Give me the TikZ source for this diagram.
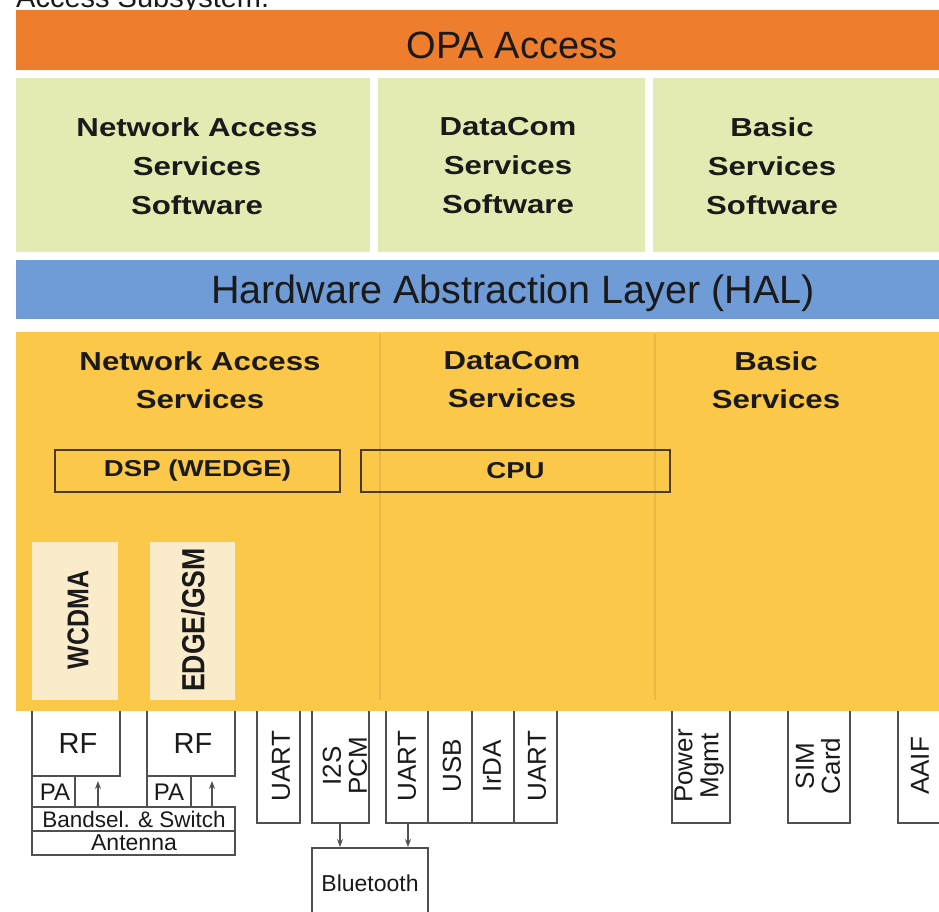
\documentclass[tikz,border=0pt]{standalone}
\usepackage{fontspec}
\setmainfont{Liberation Sans}
\newfontfamily\widefont[FakeStretch=1.2]{Liberation Sans}
\newfontfamily\narrowfont[FakeStretch=0.833]{Liberation Sans}
\usetikzlibrary{arrows.meta}
\definecolor{opaorange}{HTML}{EE7E2E}
\definecolor{softgreen}{HTML}{E3EBB3}
\definecolor{halblue}{HTML}{6F9BD6}
\definecolor{hwyellow}{HTML}{FCC84A}
\definecolor{divyellow}{HTML}{EDB543}
\definecolor{cream}{HTML}{FAEBCB}
\definecolor{textdark}{HTML}{1A1A1A}
\definecolor{chipline}{HTML}{4A3B1C}
\definecolor{linegray}{HTML}{505050}
\tikzset{
  band/.style={anchor=north west, inner sep=0, outer sep=0, draw=none},
  gtext/.style={font=\widefont\fontsize{26}{39}\bfseries\selectfont, align=center, text=textdark},
  ytext/.style={font=\widefont\fontsize{26}{38}\bfseries\selectfont, align=center, text=textdark},
  chip/.style={anchor=north west, inner sep=0, outer sep=0, draw=chipline, line width=1.3pt,
    minimum height=42, font=\widefont\fontsize{23}{25}\bfseries\selectfont, text=textdark},
  radio/.style={anchor=north west, inner sep=0, outer sep=0, fill=cream, minimum height=158},
  radiotext/.style={rotate=90, font=\narrowfont\fontsize{30}{32}\bfseries\selectfont, text=textdark},
  cell/.style={anchor=north west, inner sep=0, outer sep=0, minimum height=112},
  vtext/.style={rotate=90, align=center, font=\fontsize{26}{26}\selectfont, text=textdark},
  htext/.style={font=\fontsize{23}{25}\selectfont, text=textdark, inner sep=0},
  wire/.style={draw=linegray, line width=1.3pt},
  arr/.style={-{Stealth[length=8pt,width=6pt]}, draw=linegray, fill=linegray, line width=1.2pt},
}
\begin{document}
\begin{tikzpicture}[x=1pt,y=-1pt]
\useasboundingbox (0,0) rectangle (939,911);
\clip (0,0) rectangle (939,911);
\fill[white] (0,0) rectangle (939,911);

% caption fragment
\node[anchor=base west, inner sep=0, font=\fontsize{29}{30}\selectfont, text=textdark] (caption) at (16,7) {Access Subsystem.};

% OPA access
\node[band, fill=opaorange, minimum width=992, minimum height=60] (opa) at (16,10) {};
\node[font=\fontsize{38}{40}\selectfont, text=textdark] (opat) at (512,45) {OPA Access};

% software boxes
\node[band, fill=softgreen, minimum width=354, minimum height=174] (g1) at (16,78) {};
\node[band, fill=softgreen, minimum width=267, minimum height=174] (g2) at (378,78) {};
\node[band, fill=softgreen, minimum width=300, minimum height=174] (g3) at (653,78) {};
\node[gtext] (g1t) at (197,166) {Network Access\\Services\\Software};
\node[gtext] (g2t) at (508,166) {DataCom\\Services\\Software};
\node[gtext] (g3t) at (772,166) {Basic\\Services\\Software};

% HAL
\node[band, fill=halblue, minimum width=992, minimum height=59] (hal) at (16,260) {};
\node[font=\fontsize{39.5}{41}\selectfont, text=textdark] (halt) at (513,293) {Hardware Abstraction Layer (HAL)};

% hardware area
\node[band, fill=hwyellow, minimum width=923, minimum height=379] (hw) at (16,332) {};
\draw[divyellow, line width=2.5pt] (380,334) -- (380,700);
\draw[divyellow, line width=2.5pt] (655,334) -- (655,700);
\node[ytext] (y1t) at (200,380) {Network Access\\Services};
\node[ytext] (y2t) at (512,380) {DataCom\\Services};
\node[ytext] (y3t) at (776,380) {Basic\\Services};

\node[chip, minimum width=285] (dsp) at (55,450) {DSP (WEDGE)};
\node[chip, minimum width=309] (cpu) at (361,450) {CPU};

\node[radio, minimum width=86] (wcdma) at (32,542) {};
\node[radio, minimum width=85] (edge) at (150,542) {};
\node[radiotext] (wcdmat) at (78,620) {WCDMA};
\node[radiotext, font=\narrowfont\fontsize{32}{34}\bfseries\selectfont] (edget) at (193,620) {EDGE/GSM};

% radio front end
\node[cell, minimum width=88, minimum height=65] (rf1) at (32,711) {};
\node[cell, minimum width=88, minimum height=65] (rf2) at (147,711) {};
\node[htext, font=\fontsize{29}{30}\selectfont] (rf1t) at (78,744) {RF};
\node[htext, font=\fontsize{29}{30}\selectfont] (rf2t) at (193,744) {RF};
\draw[wire] (rf1.north west) |- (rf1.south east) -- (rf1.north east);
\draw[wire] (rf2.north west) |- (rf2.south east) -- (rf2.north east);

\node[cell, minimum width=43, minimum height=31] (pa1) at (32,776) {};
\node[cell, minimum width=44, minimum height=31] (pa2) at (147,776) {};
\node[htext, font=\fontsize{24}{25}\selectfont] (pa1t) at (55,792) {PA};
\node[htext, font=\fontsize{24}{25}\selectfont] (pa2t) at (169,792) {PA};
\draw[wire] (pa1.north west) -- (pa1.south west) (pa1.north east) -- (pa1.south east);
\draw[wire] (pa2.north west) -- (pa2.south west) (pa2.north east) -- (pa2.south east);

\node[cell, minimum width=203, minimum height=24, draw=linegray, line width=1.3pt] (bs) at (32,807) {};
\node[htext, font=\fontsize{22.5}{24}\selectfont] (bst) at (134,819) {Bandsel. \& Switch};
\node[cell, minimum width=203, minimum height=24, draw=linegray, line width=1.3pt] (ant) at (32,831) {};
\node[htext] (antt) at (134,843) {Antenna};

\coordinate (tip1) at (98,781);
\coordinate (tip2) at (212,781);
\draw[arr] (bs.north -| tip1) -- (tip1);
\draw[arr] (bs.north -| tip2) -- (tip2);

% interfaces
\node[cell, minimum width=43] (uart1) at (257,711) {};
\node[cell, minimum width=57] (i2s) at (312,711) {};
\node[cell, minimum width=42] (uart2) at (386,711) {};
\node[cell, minimum width=44] (usb) at (428,711) {};
\node[cell, minimum width=42] (irda) at (472,711) {};
\node[cell, minimum width=43] (uart3) at (514,711) {};
\node[cell, minimum width=58] (pwr) at (672,711) {};
\node[cell, minimum width=62] (sim) at (788,711) {};
\node[cell, minimum width=60] (aaif) at (898,711) {};
\foreach \c in {uart1,i2s,uart2,usb,irda,uart3,pwr,sim,aaif}
  \draw[wire] (\c.north west) |- (\c.south east) -- (\c.north east);

\node[vtext] (uart1t) at (281,766) {UART};
\node[vtext] (i2st) at (345,766) {I2S\\PCM};
\node[vtext] (uart2t) at (407,766) {UART};
\node[vtext] (usbt) at (452,766) {USB};
\node[vtext] (irdat) at (492,766) {IrDA};
\node[vtext] (uart3t) at (537,766) {UART};
\node[vtext] (pwrt) at (699,766) {Power\\Mgmt};
\node[vtext] (simt) at (818,766) {SIM\\Card};
\node[vtext] (aaift) at (920,766) {AAIF};

% bluetooth
\node[cell, minimum width=116, minimum height=80] (bt) at (312,848) {};
\draw[wire] (bt.south west) |- (bt.north east) -- (bt.south east);
\node[htext] (btt) at (370,883) {Bluetooth};
\coordinate (btin1) at (340,847);
\coordinate (btin2) at (408,847);
\draw[arr] (i2s.south -| btin1) -- (btin1);
\draw[arr] (uart2.south -| btin2) -- (btin2);
\end{tikzpicture}
\end{document}
